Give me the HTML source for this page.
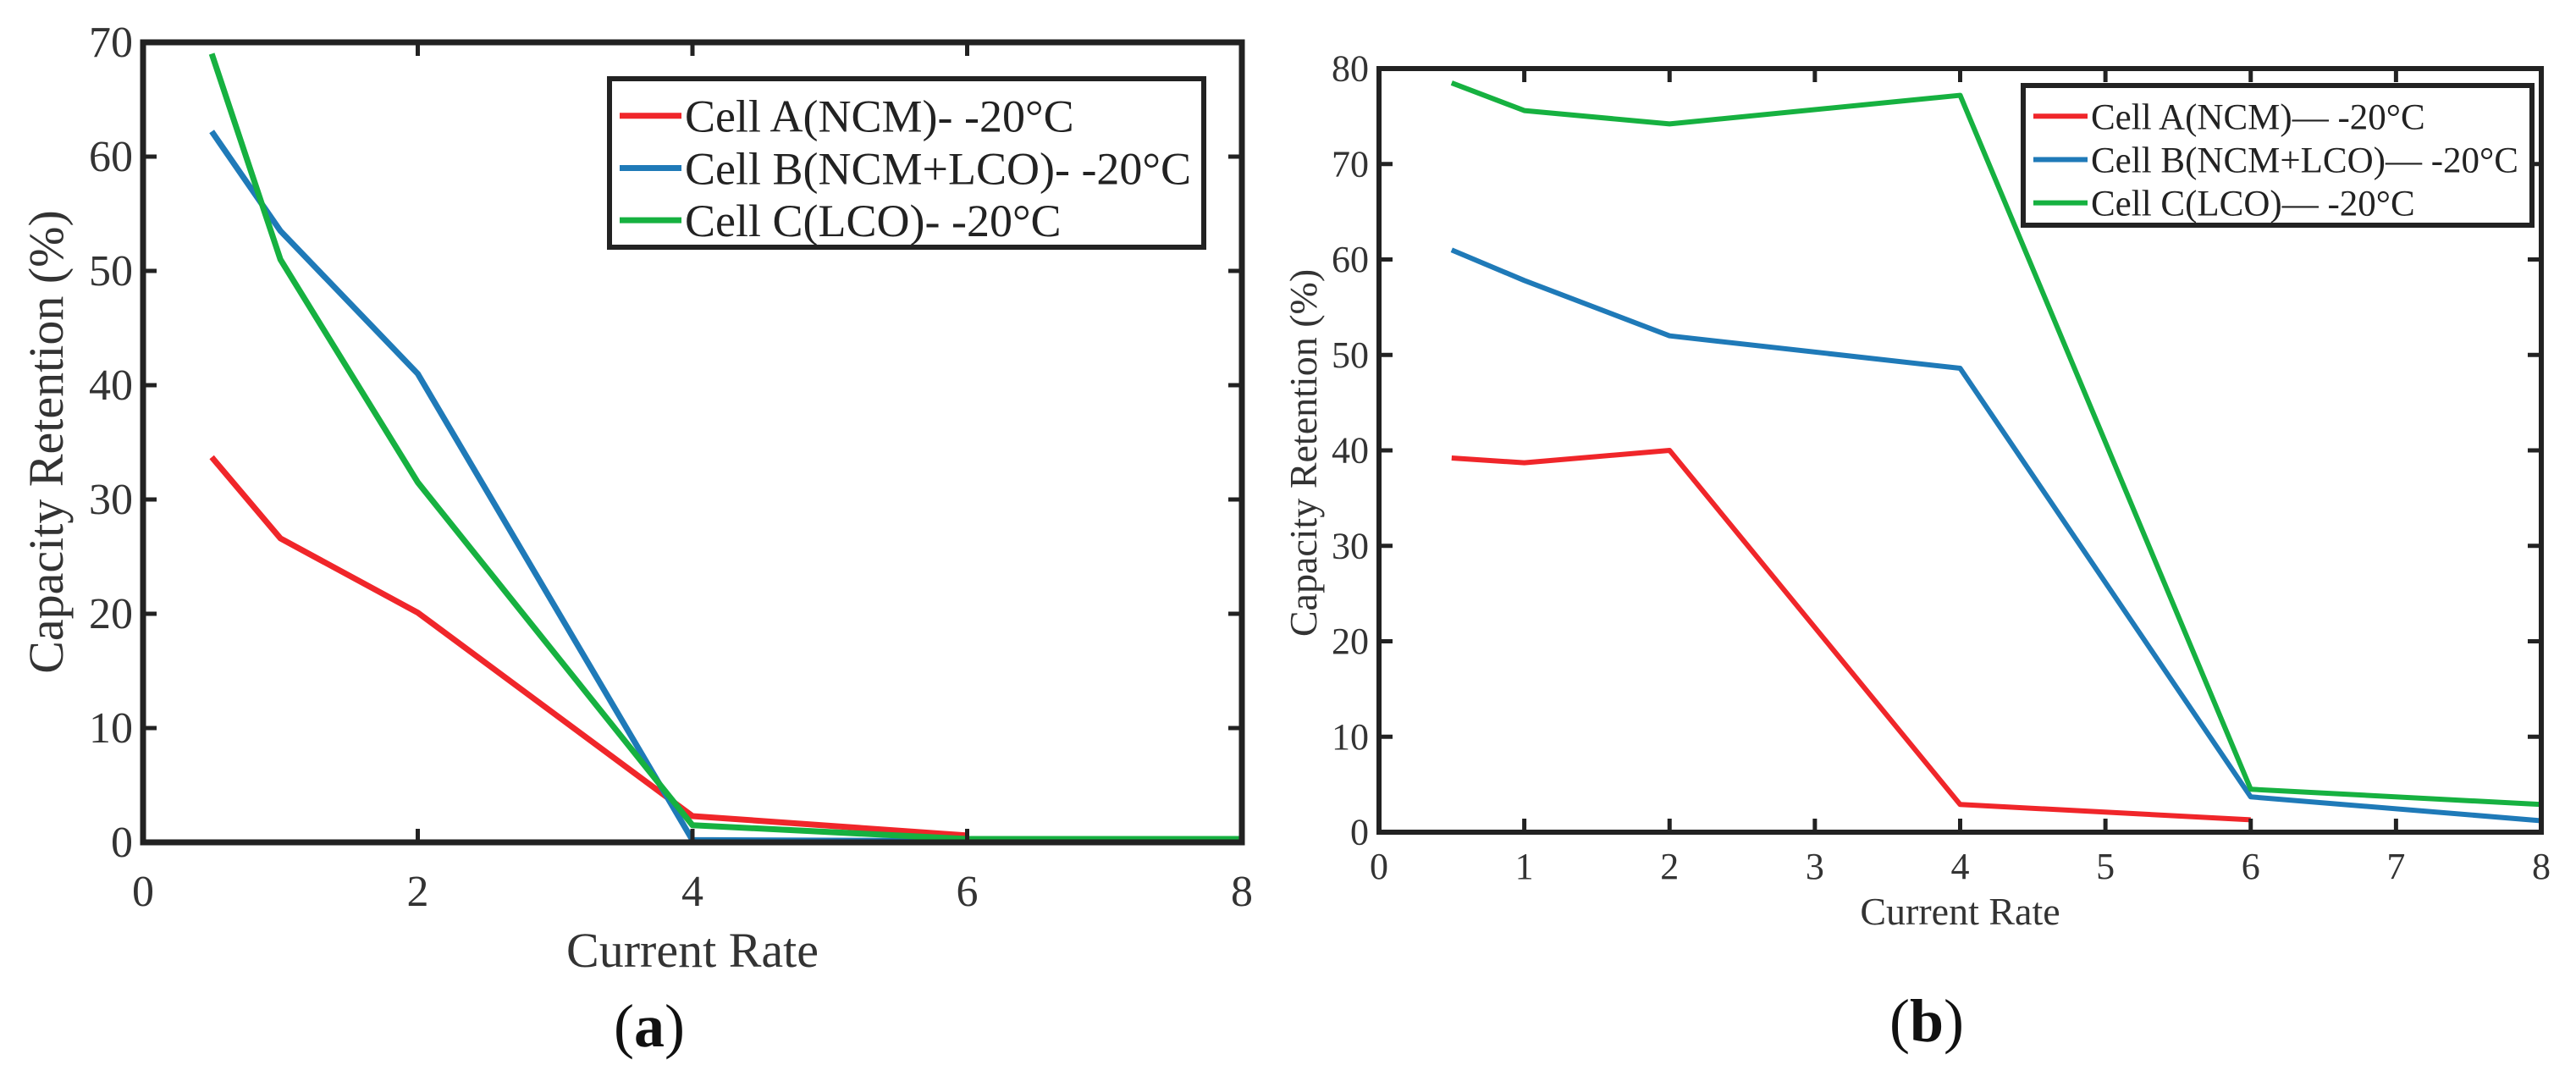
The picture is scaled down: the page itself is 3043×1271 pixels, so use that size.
<!DOCTYPE html>
<html><head><meta charset="utf-8"><style>
html,body{margin:0;padding:0;background:#fff;}
svg{display:block;font-family:"Liberation Serif",serif;}
</style></head><body>
<svg id="fig" width="3043" height="1271" viewBox="0 0 3043 1271"></svg>
<script>
const xValues=[0.5,1,2,4,6,8];
const aRed=[33.7,26.6,20.1,2.3,0.6];
const aBlue=[62.2,53.5,41,0.2,0.1,0.1];
const aGreen=[69,51,31.5,1.5,0.3,0.3];
const bRed=[39.2,38.7,40,2.9,1.3];
const bBlue=[61,57.8,52,48.6,3.7,1.2];
const bGreen=[78.5,75.6,74.2,77.2,4.5,2.9];
const aXTicks=[0,2,4,6,8];
const aYTicks=[0,10,20,30,40,50,60,70];
const bXTicks=[0,1,2,3,4,5,6,7,8];
const bYTicks=[0,10,20,30,40,50,60,70,80];
const aLegend=["Cell A(NCM)- -20\u00B0C","Cell B(NCM+LCO)- -20\u00B0C","Cell C(LCO)- -20\u00B0C"];
const bLegend=["Cell A(NCM)\u2014 -20\u00B0C","Cell B(NCM+LCO)\u2014 -20\u00B0C","Cell C(LCO)\u2014 -20\u00B0C"];

const NS="http://www.w3.org/2000/svg";
const svg=document.getElementById('fig');
function mk(tag,attrs,parent){const e=document.createElementNS(NS,tag);for(const k in attrs)e.setAttribute(k,attrs[k]);(parent||svg).appendChild(e);return e;}

function panel(p){
  const g=mk('g',{});
  
  
  const sx=v=>p.x0+(v-p.xmin)/(p.xmax-p.xmin)*(p.x1-p.x0);
  const sy=v=>p.y1-(v-p.ymin)/(p.ymax-p.ymin)*(p.y1-p.y0);
  const colors=['#f0262a','#1f7ab8','#16b140'];
  const series=[p.red,p.blue,p.green];
  const names=['cell-a','cell-b','cell-c'];
  series.forEach((s,i)=>{
    const pts=s.map((v,j)=>sx(xValues[j])+','+sy(v)).join(' ');
    const l=mk('polyline',{points:pts,fill:'none',stroke:colors[i],'stroke-width':p.lw,'stroke-linejoin':'round'},g);
    
    
  });
  const tl=16;
  p.xt.forEach(t=>{
    const x=sx(t);
    mk('line',{x1:x,x2:x,y1:p.y1,y2:p.y1-tl,stroke:'#222','stroke-width':5},g);
    mk('line',{x1:x,x2:x,y1:p.y0,y2:p.y0+tl,stroke:'#222','stroke-width':5},g);
    const tx=mk('text',{x:x,y:p.xly,'font-size':p.tfs,'text-anchor':'middle',fill:'#333'},g);
    tx.textContent=t;
    
    
  });
  p.yt.forEach(t=>{
    const y=sy(t);
    mk('line',{x1:p.x0,x2:p.x0+tl,y1:y,y2:y,stroke:'#222','stroke-width':5},g);
    mk('line',{x1:p.x1,x2:p.x1-tl,y1:y,y2:y,stroke:'#222','stroke-width':5},g);
    const tx=mk('text',{x:p.x0-12,y:y+p.tfs*0.33,'font-size':p.tfs,'text-anchor':'end',fill:'#333'},g);
    tx.textContent=t;
    
    
  });
  const fr=mk('rect',{x:p.x0,y:p.y0,width:p.x1-p.x0,height:p.y1-p.y0,fill:'none',stroke:'#222','stroke-width':p.fw},g);
  
  
  const L=p.leg;
  const lg=mk('g',{},g);
  
  
  mk('rect',{x:L.x,y:L.y,width:L.w,height:L.h,fill:'#fff',stroke:'#222','stroke-width':6},lg);
  p.legText.forEach((t,i)=>{
    const cy=L.y+L.h*(0.22+0.31*i);
    mk('line',{x1:L.x+12,x2:L.x+L.sw,y1:cy,y2:cy,stroke:colors[i],'stroke-width':p.lw},lg);
    const tx=mk('text',{x:L.x+L.sw+4,y:cy+L.fs*0.35,'font-size':L.fs,fill:'#222'},lg);
    tx.textContent=t;
    
    
  });
  const xt=mk('text',{x:(p.x0+p.x1)/2,y:p.xty,'font-size':p.afs,'text-anchor':'middle',fill:'#333'},g);
  xt.textContent='Current Rate';
  
  
  const yt=mk('text',{x:0,y:0,'font-size':p.afs,'text-anchor':'middle',fill:'#333',transform:'translate('+p.ytx+','+p.yty+') rotate(-90)'},g);
  yt.textContent='Capacity Retention (%)';
  
  
  const cap=mk('text',{x:p.capx,y:p.capy,'font-size':72,'text-anchor':'middle',fill:'#111'},g);
  cap.innerHTML='(<tspan font-weight="bold">'+p.id+'</tspan>)';
  
  
}
panel({id:'a',x0:169,x1:1467,y0:50,y1:995,xmin:0,xmax:8,ymin:0,ymax:70,red:aRed,blue:aBlue,green:aGreen,
  xt:aXTicks,yt:aYTicks,lw:7,fw:7,tfs:52,xly:1070,afs:58,xty:1142,ytx:74,yty:522,capx:767,capy:1236,
  leg:{x:720,y:93,w:702,h:199,sw:85,fs:54},legText:aLegend});
panel({id:'b',x0:1629,x1:3002,y0:81,y1:983,xmin:0,xmax:8,ymin:0,ymax:80,red:bRed,blue:bBlue,green:bGreen,
  xt:bXTicks,yt:bYTicks,lw:6,fw:6,tfs:44,xly:1038,afs:46,xty:1092,ytx:1555,yty:535,capx:2276,capy:1230,
  leg:{x:2390,y:101,w:601,h:165,sw:76,fs:43},legText:bLegend});
</script>
</body></html>
